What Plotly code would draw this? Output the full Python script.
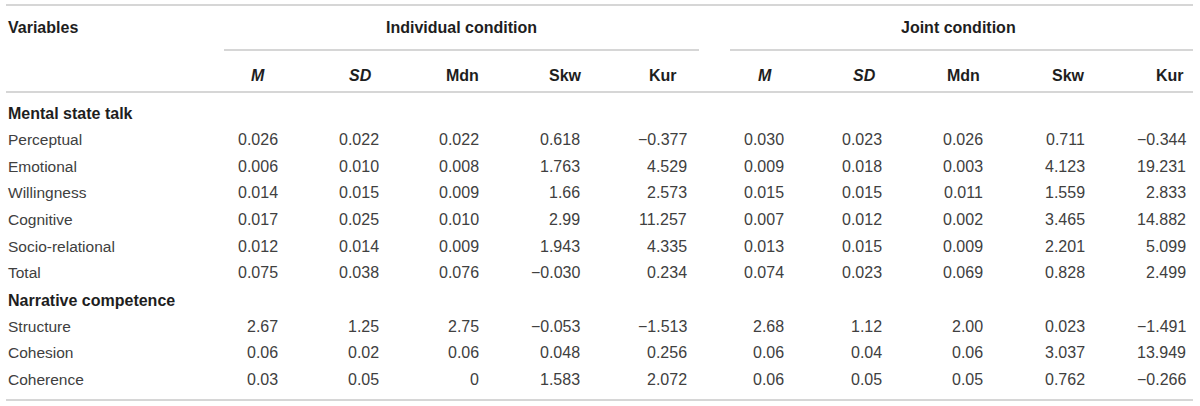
import plotly.graph_objects as go

# table content
groups = ["Individual condition", "Joint condition"]
stats_cols = ["<i>M</i>", "<i>SD</i>", "Mdn", "Skw", "Kur"]

section_mst = "Mental state talk"
rows_mst = ["Perceptual", "Emotional", "Willingness", "Cognitive", "Socio-relational", "Total"]
indiv_mst = [
    ["0.026", "0.022", "0.022", "0.618", "\u22120.377"],
    ["0.006", "0.010", "0.008", "1.763", "4.529"],
    ["0.014", "0.015", "0.009", "1.66", "2.573"],
    ["0.017", "0.025", "0.010", "2.99", "11.257"],
    ["0.012", "0.014", "0.009", "1.943", "4.335"],
    ["0.075", "0.038", "0.076", "\u22120.030", "0.234"],
]
joint_mst = [
    ["0.030", "0.023", "0.026", "0.711", "\u22120.344"],
    ["0.009", "0.018", "0.003", "4.123", "19.231"],
    ["0.015", "0.015", "0.011", "1.559", "2.833"],
    ["0.007", "0.012", "0.002", "3.465", "14.882"],
    ["0.013", "0.015", "0.009", "2.201", "5.099"],
    ["0.074", "0.023", "0.069", "0.828", "2.499"],
]

section_nc = "Narrative competence"
rows_nc = ["Structure", "Cohesion", "Coherence"]
indiv_nc = [
    ["2.67", "1.25", "2.75", "\u22120.053", "\u22121.513"],
    ["0.06", "0.02", "0.06", "0.048", "0.256"],
    ["0.03", "0.05", "0", "1.583", "2.072"],
]
joint_nc = [
    ["2.68", "1.12", "2.00", "0.023", "\u22121.491"],
    ["0.06", "0.04", "0.06", "3.037", "13.949"],
    ["0.06", "0.05", "0.05", "0.762", "\u22120.266"],
]

# layout (pixels)
W, H = 1200, 406
left_x = 6
value_right = [280, 381, 481, 582, 689, 786, 884, 985, 1087, 1188]
head_center = [258, 360, 462, 565, 663, 765, 864, 963, 1068, 1170]
group_center = [461, 958]
group_rule = [(224, 699), (730, 1193)]
y_title, y_head = 27, 75
y_sec_mst = 113
y_rows_mst = [139, 166, 192, 219, 246, 272]
y_sec_nc = 300
y_rows_nc = [326, 352, 379]
rules_full = [5, 92, 400]
y_group_rule = 50

FONT = "Liberation Sans, Arial, sans-serif"
BODY = "#404040"
BOLD = "#1e1e1e"
FS_BOLD = 16
FS_LABEL = 15.5
FS_NUM = 16
RULE = "#d6d6d6"

ann = []


def txt(x, y, s, anchor="left", bold=False, size=FS_LABEL):
    ann.append(dict(x=x, y=y, xref="x", yref="y", text=("<b>%s</b>" % s) if bold else s,
                    showarrow=False, xanchor=anchor, yanchor="middle",
                    font=dict(family=FONT, size=FS_BOLD if bold else size,
                              color=BOLD if bold else BODY)))


txt(left_x, y_title, "Variables", bold=True)
for g, cx in zip(groups, group_center):
    txt(cx, y_title, g, anchor="center", bold=True)
for i, cx in enumerate(head_center):
    txt(cx, y_head, stats_cols[i % 5], anchor="center", bold=True)

for sec, ys, names, ind, jnt, yrows in [
    (section_mst, y_sec_mst, rows_mst, indiv_mst, joint_mst, y_rows_mst),
    (section_nc, y_sec_nc, rows_nc, indiv_nc, joint_nc, y_rows_nc),
]:
    txt(left_x, ys, sec, bold=True)
    for name, a, b, y in zip(names, ind, jnt, yrows):
        txt(left_x, y, name)
        for v, xr in zip(a + b, value_right):
            txt(xr, y, v, anchor="right", size=FS_NUM)

shapes = []
for y in rules_full:
    shapes.append(dict(type="line", xref="x", yref="y", x0=left_x, x1=1193, y0=y, y1=y,
                       line=dict(color=RULE, width=2)))
for x0, x1 in group_rule:
    shapes.append(dict(type="line", xref="x", yref="y", x0=x0, x1=x1, y0=y_group_rule, y1=y_group_rule,
                       line=dict(color=RULE, width=2)))

fig = go.Figure()
fig.update_layout(
    width=W, height=H,
    margin=dict(l=0, r=0, t=0, b=0),
    paper_bgcolor="white", plot_bgcolor="white",
    xaxis=dict(range=[0, W], visible=False, fixedrange=True),
    yaxis=dict(range=[H, 0], visible=False, fixedrange=True),
    annotations=ann, shapes=shapes, showlegend=False,
)

fig.write_html("out.html", config={"displayModeBar": False},
               post_script="document.body.style.margin='0';document.body.style.overflow='hidden';")
